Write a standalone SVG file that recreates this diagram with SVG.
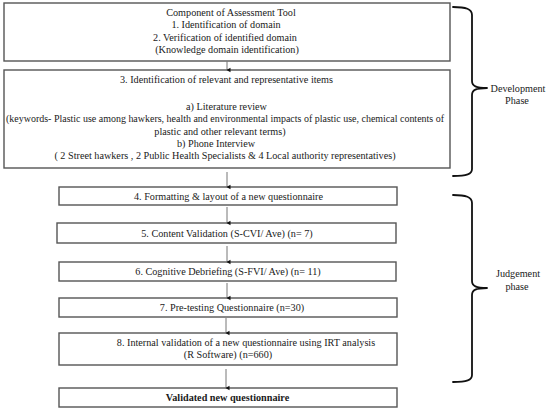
<svg xmlns="http://www.w3.org/2000/svg" width="550" height="409" viewBox="0 0 550 409">
  <defs>
    <marker id="ah" markerWidth="6" markerHeight="6" refX="3" refY="5" orient="auto" markerUnits="userSpaceOnUse" viewBox="0 0 6 6">
      <path d="M0.8,1.5 L5.2,1.5 L3,5.5 Z" fill="#111"/>
    </marker>
    <style>
      .box { fill: #fff; stroke: #555; stroke-width: 1.4; }
      .t { font-size: 10.2px; fill: #1a1a1a; text-anchor: middle; }
      .b { font-weight: bold; }
      .conn line { stroke: #777; stroke-width: 1; marker-end: url(#ah); }
      .brace { fill: none; stroke: #111; stroke-width: 1.8; stroke-linecap: round; stroke-linejoin: round; }
    </style>
  </defs>
  <rect width="550" height="409" fill="#fff"/>
  <g font-family="Liberation Serif, Times New Roman, serif">
  <g id="node1">
    <rect class="box" x="4" y="3" width="446" height="58"/>
    <text class="t" x="231" y="15.5">Component of Assessment Tool</text>
    <text class="t" x="226" y="28">1. Identification  of domain</text>
    <text class="t" x="225" y="40.5">2. Verification of identified domain</text>
    <text class="t" x="227" y="53">(Knowledge domain identification)</text>
  </g>

  <g id="node2">
    <rect class="box" x="4" y="70" width="446" height="98"/>
    <text class="t" x="226.5" y="83">3. Identification of relevant and representative items</text>
    <text class="t" x="226.5" y="109.5">a) Literature review</text>
    <text class="t" x="225" y="122" textLength="438" lengthAdjust="spacingAndGlyphs">(keywords- Plastic use among hawkers, health and environmental impacts of plastic use, chemical contents of</text>
    <text class="t" x="220" y="134.5">plastic and other relevant terms)</text>
    <text class="t" x="216" y="146.5">b) Phone Interview</text>
    <text class="t" x="225" y="159">( 2 Street hawkers , 2 Public Health Specialists &amp; 4 Local authority representatives)</text>
  </g>

  <g id="node4">
    <rect class="box" x="59" y="187" width="338" height="18"/>
    <text class="t" x="228.5" y="199.5">4.  Formatting &amp; layout of a new questionnaire</text>
  </g>

  <g id="node5">
    <rect class="box" x="57" y="223" width="339" height="20"/>
    <text class="t" x="227" y="236.5">5. Content Validation  (S-CVI/ Ave) (n= 7)</text>
  </g>

  <g id="node6">
    <rect class="box" x="59" y="262" width="337" height="19"/>
    <text class="t" x="228" y="275">6. Cognitive Debriefing (S-FVI/ Ave) (n= 11)</text>
  </g>

  <g id="node7">
    <rect class="box" x="59" y="298" width="338" height="19"/>
    <text class="t" x="232" y="311">7.  Pre-testing Questionnaire (n=30)</text>
  </g>

  <g id="node8">
    <rect class="box" x="59" y="333" width="338" height="32"/>
    <text class="t" x="246" y="346">8. Internal validation of a new questionnaire using IRT analysis</text>
    <text class="t" x="228" y="358">(R Software) (n=660)</text>
  </g>

  <g id="node9">
    <rect class="box" x="59" y="388" width="338" height="19"/>
    <text class="t b" x="227.5" y="401">Validated new questionnaire</text>
  </g>

  <g id="connectors" class="conn">
    <line x1="227" y1="61" x2="227" y2="70"/>
    <line x1="227" y1="172" x2="227" y2="187"/>
    <line x1="227" y1="207" x2="227" y2="223"/>
    <line x1="227" y1="246" x2="227" y2="262"/>
    <line x1="227" y1="283" x2="227" y2="298"/>
    <line x1="226" y1="318" x2="226" y2="333"/>
    <line x1="226" y1="369" x2="226" y2="388"/>
  </g>

  <g id="development-phase">
    <path class="brace" d="M453,7 C466,7 472,9 472,15 L472,81 C472,86 476,88 487,88 C476,88 472,90 472,95 L472,169 C472,174 467,176 453,176"/>
    <text class="t" x="518" y="92">Development</text>
    <text class="t" x="517" y="104">Phase</text>
  </g>

  <g id="judgement-phase">
    <path class="brace" d="M453,195 C466,195 472,197 472,203 L472,281 C472,286 476,288 487,288 C476,288 472,290 472,295 L472,375 C472,380 467,382 453,382"/>
    <text class="t" x="518" y="277">Judgement</text>
    <text class="t" x="517" y="290">phase</text>
  </g>
  </g>
</svg>
